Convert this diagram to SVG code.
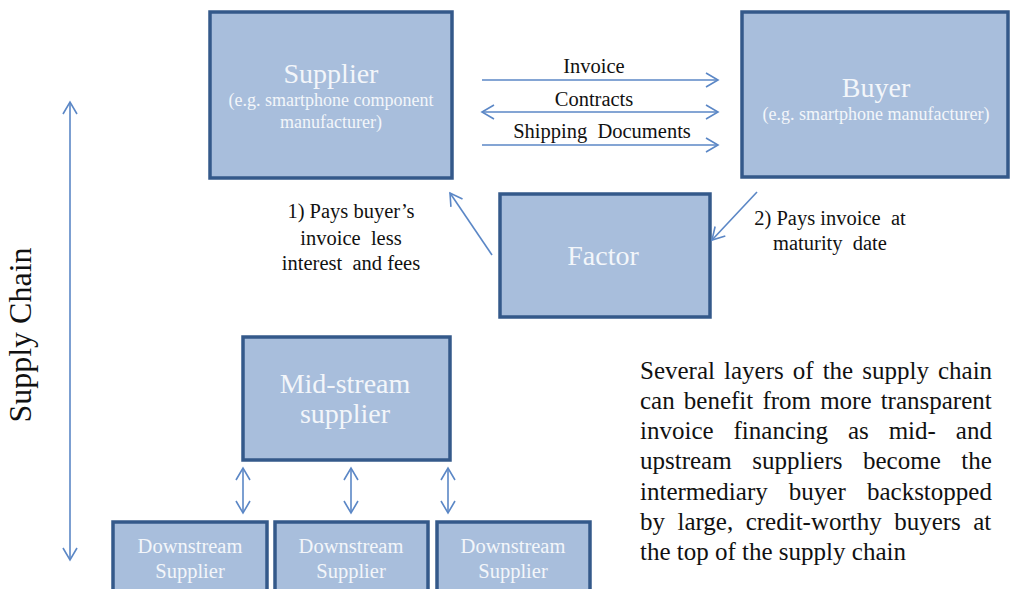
<svg xmlns="http://www.w3.org/2000/svg" width="1011" height="589" viewBox="0 0 1011 589">
<style>
.box{fill:#A8BEDC;stroke:#34598A;stroke-width:3.5}
.bt{font-family:"Liberation Serif",serif;fill:#F3F6FA;text-anchor:middle}
.lt{font-family:"Liberation Serif",serif;fill:#111;text-anchor:middle;white-space:pre;font-size:20.5px}
.pt{font-family:"Liberation Serif",serif;fill:#111;font-size:25px}
.ar{stroke:#5B87C6;stroke-width:1.6;fill:none}
</style>
<defs>
<marker id="ah" markerUnits="userSpaceOnUse" markerWidth="16" markerHeight="18" viewBox="-14 -9 16 18" refX="0" refY="0" orient="auto-start-reverse">
<path d="M-12,-7 L0,0 L-12,7" fill="none" stroke="#5B87C6" stroke-width="1.6"/>
</marker>
</defs>
<rect width="1011" height="589" fill="#fff"/>
<g id="supplier">
<rect class="box" x="210" y="12" width="242" height="166"/>
<text class="bt" x="331" y="83" font-size="28">Supplier</text>
<text class="bt" x="331" y="106" font-size="18">(e.g. smartphone component</text>
<text class="bt" x="331" y="128" font-size="18">manufacturer)</text>
</g>
<g id="buyer">
<rect class="box" x="742" y="12" width="266" height="165"/>
<text class="bt" x="876" y="97" font-size="28">Buyer</text>
<text class="bt" x="876" y="120" font-size="18">(e.g. smartphone manufacturer)</text>
</g>
<g id="factor">
<rect class="box" x="500" y="194" width="210" height="123"/>
<text class="bt" x="603" y="265" font-size="28">Factor</text>
</g>
<g id="midstream">
<rect class="box" x="243" y="337" width="207" height="123"/>
<text class="bt" x="345" y="393" font-size="28">Mid-stream</text>
<text class="bt" x="345" y="423" font-size="28">supplier</text>
</g>
<g id="downstream1">
<rect class="box" x="113" y="522" width="154" height="80"/>
<text class="bt" x="190" y="553" font-size="20.5">Downstream</text>
<text class="bt" x="190" y="578" font-size="20.5">Supplier</text>
</g>
<g id="downstream2">
<rect class="box" x="275" y="522" width="153" height="80"/>
<text class="bt" x="351" y="553" font-size="20.5">Downstream</text>
<text class="bt" x="351" y="578" font-size="20.5">Supplier</text>
</g>
<g id="downstream3">
<rect class="box" x="437" y="522" width="153" height="80"/>
<text class="bt" x="513" y="553" font-size="20.5">Downstream</text>
<text class="bt" x="513" y="578" font-size="20.5">Supplier</text>
</g>
<g id="connectors">
<line class="ar" x1="482" y1="80" x2="718" y2="80" marker-end="url(#ah)"/>
<line class="ar" x1="482" y1="112" x2="718" y2="112" marker-start="url(#ah)" marker-end="url(#ah)"/>
<line class="ar" x1="482" y1="145" x2="718" y2="145" marker-end="url(#ah)"/>
<line class="ar" x1="492" y1="255" x2="450" y2="193" marker-end="url(#ah)"/>
<line class="ar" x1="757" y1="192" x2="712" y2="240" marker-end="url(#ah)"/>
<line class="ar" x1="243" y1="468" x2="243" y2="513" marker-start="url(#ah)" marker-end="url(#ah)"/>
<line class="ar" x1="351" y1="468" x2="351" y2="513" marker-start="url(#ah)" marker-end="url(#ah)"/>
<line class="ar" x1="448" y1="468" x2="448" y2="513" marker-start="url(#ah)" marker-end="url(#ah)"/>
<line class="ar" x1="70" y1="102" x2="70" y2="560" marker-start="url(#ah)" marker-end="url(#ah)"/>
</g>
<g id="labels">
<text class="lt" x="594" y="73">Invoice</text>
<text class="lt" x="594" y="106">Contracts</text>
<text class="lt" x="602" y="138">Shipping  Documents</text>
<text class="lt" x="351" y="218">1) Pays buyer’s</text>
<text class="lt" x="351" y="245">invoice  less</text>
<text class="lt" x="351" y="270">interest  and fees</text>
<text class="lt" x="830" y="225">2) Pays invoice  at</text>
<text class="lt" x="830" y="250">maturity  date</text>
<text class="lt" transform="translate(31,335) rotate(-90)" x="0" y="0" font-size="32" style="font-size:32px">Supply Chain</text>
</g>
<g id="paragraph">
<text class="pt" x="640" y="379" word-spacing="2.8">Several layers of the supply chain</text>
<text class="pt" x="640" y="409" word-spacing="2.9">can benefit from more transparent</text>
<text class="pt" x="640" y="439" word-spacing="13.7">invoice financing as mid- and</text>
<text class="pt" x="640" y="469" word-spacing="14.3">upstream suppliers become the</text>
<text class="pt" x="640" y="500" word-spacing="14.9">intermediary buyer backstopped</text>
<text class="pt" x="640" y="530" word-spacing="6.2">by large, credit-worthy buyers at</text>
<text class="pt" x="640" y="560">the top of the supply chain</text>
</g>
</svg>
